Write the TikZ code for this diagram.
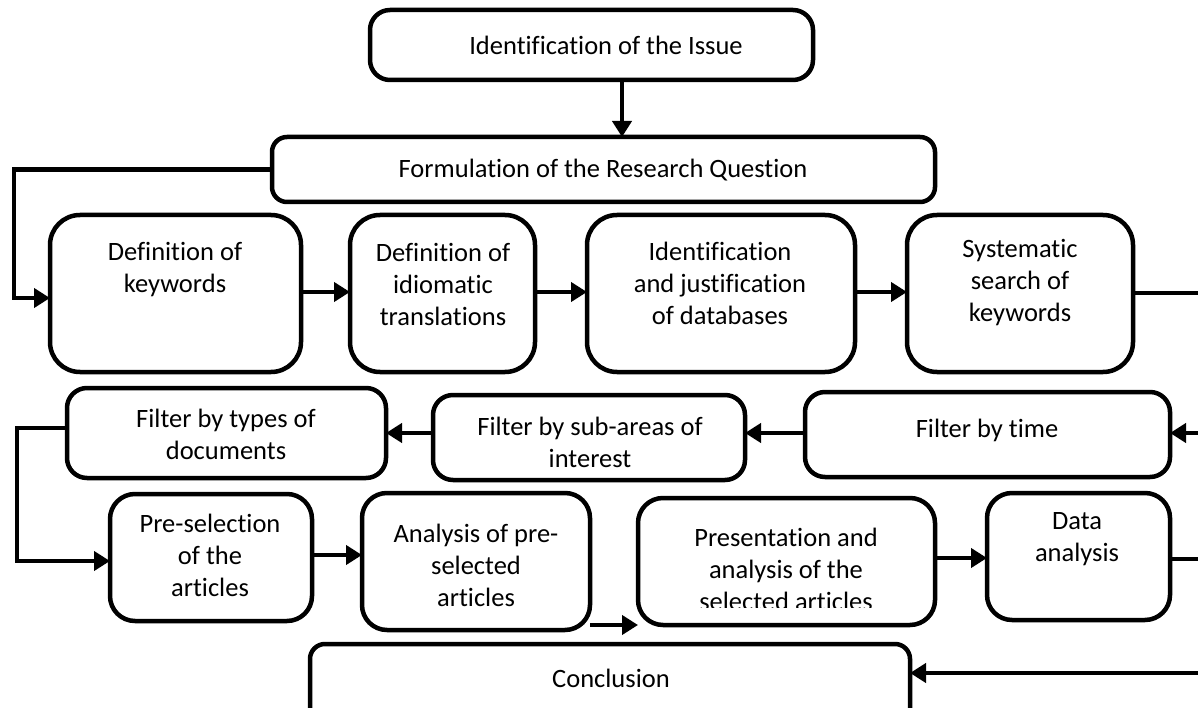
\documentclass[tikz,border=0pt]{standalone}
\usepackage{fontspec}
\setmainfont{Carlito}[Ligatures=NoCommon]
\usetikzlibrary{arrows.meta}
\tikzset{
  box/.style={draw, line width=4.5pt, rounded corners=#1, outer sep=0pt, inner sep=0pt, fill=white},
  box/.default=20pt,
  txt/.style={align=center, font=\fontsize{26.5}{32}\selectfont, inner sep=0pt},
  conn/.style={line width=4.5pt},
  arr/.style={line width=4.5pt, -{Triangle[length=16pt,width=19pt]}},
}
\begin{document}
\begin{tikzpicture}[x=1pt,y=-1pt]
\useasboundingbox (0,0) rectangle (1198,708);
\fill[white] (0,0) rectangle (1198,708);

% row 1, 2
\node[box=20pt, minimum width=443pt, minimum height=70pt] (issue) at (591.5,45) {};
\node[txt] (issue-t) at (606,45) {Identification of the Issue};
\node[box=15pt, minimum width=663pt, minimum height=65pt] (form) at (603.5,169.5) {};
\node[txt] (form-t) at (603,170) {Formulation of the Research Question};

% row 3
\node[box=30pt, minimum width=251pt, minimum height=157pt] (kw) at (175.5,293.5) {};
\node[txt] (kw-t) at (175,270) {Definition of\\keywords};
\node[box=30pt, minimum width=185pt, minimum height=157pt] (idiom) at (442.5,293.5) {};
\node[txt] (idiom-t) at (443,284) {Definition of\\idiomatic\\translations};
\node[box=30pt, minimum width=268pt, minimum height=157pt] (db) at (721,293.5) {};
\node[txt] (db-t) at (720,283) {Identification\\and justification\\of databases};
\node[box=30pt, minimum width=226pt, minimum height=157pt] (sys) at (1020,293.5) {};
\node[txt] (sys-t) at (1020,283) {Systematic\\search of\\keywords};

% row 4
\node[box=20pt, minimum width=319pt, minimum height=90pt] (ftype) at (226.5,433) {};
\node[txt] (ftype-t) at (226,434) {Filter by types of\\documents};
\node[box=20pt, minimum width=312pt, minimum height=85pt] (fsub) at (589,437.5) {};
\node[txt] (fsub-t) at (590,442) {Filter by sub-areas of\\interest};
\node[box=20pt, minimum width=365pt, minimum height=85pt] (ftime) at (987.5,434.5) {};
\node[txt] (ftime-t) at (987,430) {Filter by time};

% row 5
\node[box=25pt, minimum width=202pt, minimum height=127pt] (pre) at (211,557.5) {};
\node[txt] (pre-t) at (210,555) {Pre-selection\\of the\\articles};
\node[box=25pt, minimum width=228pt, minimum height=137pt] (ana) at (476,561.5) {};
\node[txt] (ana-t) at (476,565) {Analysis of pre-\\selected\\articles};
\node[box=25pt, minimum width=297pt, minimum height=127pt] (pres) at (786.5,561.5) {};
\begin{scope}
  \clip (600,480) rectangle (960,607);
  \node[txt] (pres-t) at (786,569) {Presentation and\\analysis of the\\selected articles};
\end{scope}
\node[box=25pt, minimum width=183pt, minimum height=127pt] (data) at (1078.5,556.5) {};
\node[txt] (data-t) at (1077,539) {Data\\analysis};

% row 6
\node[box=15pt, minimum width=600pt, minimum height=97pt] (concl) at (610,692.5) {};
\node[txt] (concl-t) at (611,678) {Conclusion};

% connectors
\coordinate (issueOut) at (622,80);
\draw[arr] (issueOut) -- (issueOut |- form.north);
\draw[arr] (form.west) -- (14,169.5) -- (14,298) -- (kw.west |- 0,298);
\draw[arr] (kw.east |- 0,292) -- (idiom.west |- 0,292);
\draw[arr] (idiom.east |- 0,292) -- (db.west |- 0,292);
\draw[arr] (db.east |- 0,292) -- (sys.west |- 0,292);
\coordinate (rEdge1) at (1198,293);
\draw[conn] (sys.east |- rEdge1) -- (rEdge1);
\coordinate (rEdge2) at (1198,433);
\draw[arr] (rEdge2) -- (ftime.east |- rEdge2);
\draw[arr] (ftime.west |- 0,433) -- (fsub.east |- 0,433);
\draw[arr] (fsub.west |- 0,433) -- (ftype.east |- 0,433);
\draw[arr] (ftype.west |- 0,428) -- (17,428) -- (17,561) -- (pre.west |- 0,561);
\draw[arr] (pre.east |- 0,555) -- (ana.west |- 0,555);
\draw[arr] (ana.east |- 0,625) -- (pres.west |- 0,625);
\draw[arr] (pres.east |- 0,558) -- (data.west |- 0,558);
\coordinate (rEdge3) at (1198,559);
\draw[conn] (data.east |- rEdge3) -- (rEdge3);
\coordinate (rEdge4) at (1198,673);
\draw[arr] (rEdge4) -- (concl.east |- rEdge4);
\end{tikzpicture}
\end{document}
